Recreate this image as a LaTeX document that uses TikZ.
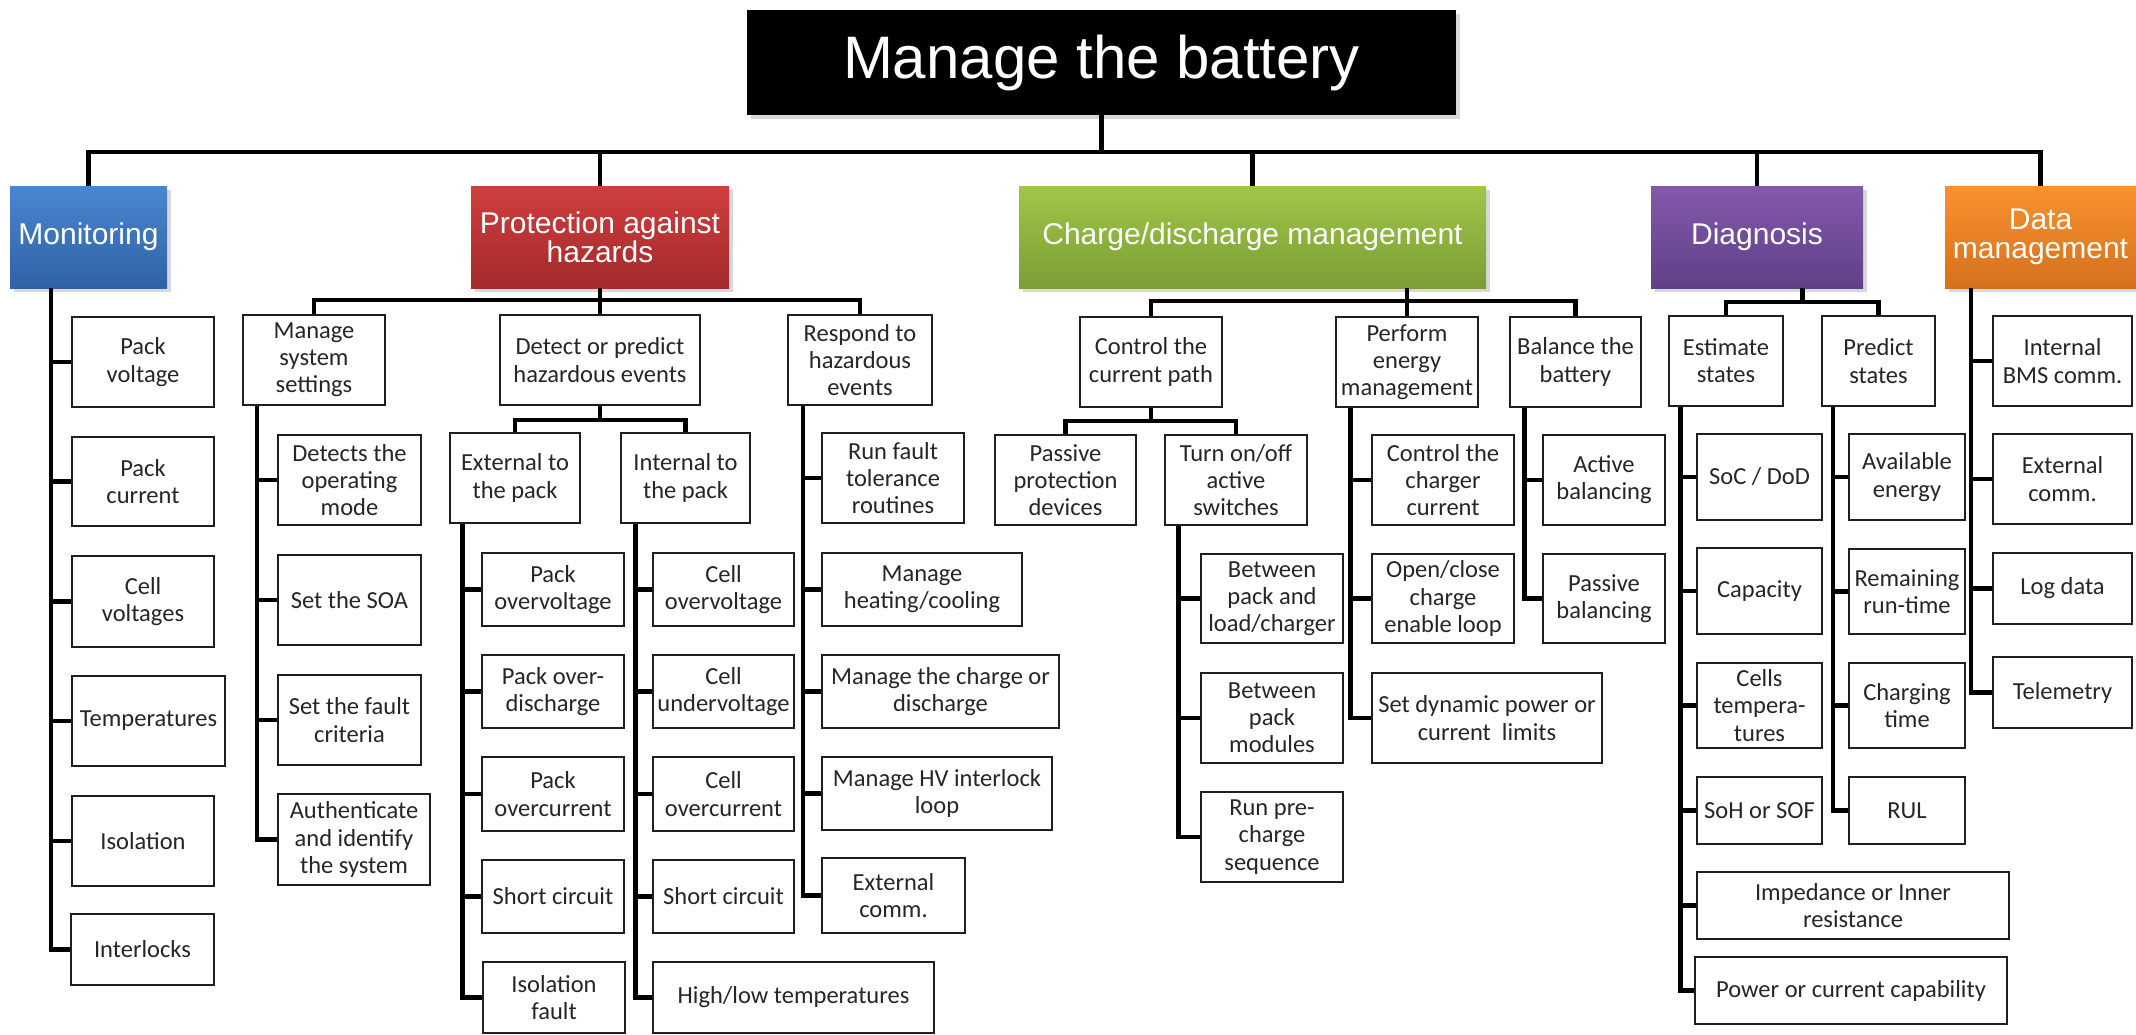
\documentclass[tikz,border=0pt]{standalone}
\usepackage{fontspec}
\setmainfont{Carlito}
\newfontfamily\headfont{Liberation Sans}
\usetikzlibrary{shadows,calc}

\definecolor{monA}{HTML}{4A86D0}\definecolor{monB}{HTML}{2F62A4}
\definecolor{proA}{HTML}{D03E3E}\definecolor{proB}{HTML}{A22A2B}
\definecolor{chgA}{HTML}{A0C648}\definecolor{chgB}{HTML}{7A9E34}
\definecolor{diaA}{HTML}{8459AC}\definecolor{diaB}{HTML}{5F4086}
\definecolor{datA}{HTML}{F8922E}\definecolor{datB}{HTML}{D5711E}

\tikzset{
  conn/.style={draw=black, line width=2.3pt, line join=miter},
  box/.style={draw=black!88, line width=1.3pt, fill=white, inner sep=1pt,
    align=center, text=black!85, font=\fontsize{12.25}{13.6}\selectfont},
  head/.style={inner sep=1pt, align=center, text=white,
    font=\headfont\fontsize{15}{14.5}\selectfont,
    drop shadow={shadow xshift=2pt, shadow yshift=-2pt, opacity=0.3}},
}

% box from its corners: [style]{name}{x1}{y1}{x2}{y2}{text}
\newcommand\bxn[7][box]{%
  \node[#1, minimum width={(#5-#3)*0.5pt}, minimum height={(#6-#4)*0.5pt}]
    (#2) at ({(#3+#5)/2},{(#4+#6)/2}) {#7};}
% vertical spine under a parent, with a stub to each child
\newcommand\spinex[4]{%
  \coordinate (sp) at (#2,0);
  \draw[conn] (#1.south -| sp) |- (#4.west);
  \foreach \c in {#3} \draw[conn] (sp |- \c.west) -- (\c.west);}

\begin{document}
\begin{tikzpicture}[x=0.5pt, y=-0.5pt]
\fill[white] (0,0) rectangle (2136,1034);
\useasboundingbox (0,0) rectangle (2136,1034);

% root and first level
\bxn[head, fill=black, font=\headfont\fontsize{30}{36}\selectfont]{title}{747}{10}{1456}{115}{Manage the battery}
\bxn[head, top color=monA, bottom color=monB]{mon}{10}{186}{167}{288}{Monitoring}
\bxn[head, top color=proA, bottom color=proB]{pah}{471}{186}{729}{288}{Protection against\\hazards}
\bxn[head, top color=chgA, bottom color=chgB]{cdm}{1019}{186}{1486}{288}{Charge/discharge management}
\bxn[head, top color=diaA, bottom color=diaB]{dia}{1651}{186}{1863}{288}{Diagnosis}
\bxn[head, top color=datA, bottom color=datB]{dmg}{1945}{186}{2136}{288}{Data\\management}

% Monitoring
\bxn{pv}{72}{317}{214}{407}{Pack\\voltage}
\bxn{pc}{72}{437}{214}{526}{Pack\\current}
\bxn{cv}{72}{556}{214}{647}{Cell\\voltages}
\bxn{tp}{72}{676}{225}{766}{Temperatures}
\bxn{iso}{72}{796}{214}{886}{Isolation}
\bxn{il}{71}{914}{214}{985}{Interlocks}

% Protection against hazards
\bxn{mss}{243}{315}{385}{405}{Manage\\system\\settings}
\bxn{dph}{500}{315}{700}{405}{Detect or predict\\hazardous events}
\bxn{rhe}{788}{315}{932}{405}{Respond to\\hazardous\\events}

\bxn{dom}{278}{435}{421}{525}{Detects the\\operating\\mode}
\bxn{soa}{278}{555}{421}{645}{Set the SOA}
\bxn{sfc}{278}{675}{421}{765}{Set the fault\\criteria}
\bxn{aut}{278}{794}{430}{885}{Authenticate\\and identify\\the system}

\bxn{ext}{450}{433}{580}{523}{External to\\the pack}
\bxn{intp}{621}{433}{750}{523}{Internal to\\the pack}

\bxn{pov}{482}{553}{624}{626}{Pack\\overvoltage}
\bxn{pod}{482}{655}{624}{728}{Pack over-\\discharge}
\bxn{poc}{482}{757}{624}{831}{Pack\\overcurrent}
\bxn{psc}{482}{860}{624}{933}{Short circuit}
\bxn{isf}{483}{962}{625}{1033}{Isolation\\fault}

\bxn{cov}{653}{553}{794}{626}{Cell\\overvoltage}
\bxn{cuv}{653}{655}{794}{728}{Cell\\undervoltage}
\bxn{coc}{653}{757}{794}{831}{Cell\\overcurrent}
\bxn{csc}{653}{860}{794}{933}{Short circuit}
\bxn{hlt}{653}{962}{934}{1033}{High/low temperatures}

\bxn{rft}{822}{433}{964}{523}{Run fault\\tolerance\\routines}
\bxn{mhc}{822}{553}{1022}{626}{Manage\\heating/cooling}
\bxn{mcd}{822}{655}{1059}{728}{Manage the charge or\\discharge}
\bxn{mhv}{822}{757}{1052}{830}{Manage HV interlock\\loop}
\bxn{exc}{822}{858}{965}{933}{External\\comm.}

% Charge/discharge management
\bxn{ctp}{1080}{317}{1222}{407}{Control the\\current path}
\bxn{pem}{1336}{317}{1478}{407}{Perform\\energy\\management}
\bxn{bal}{1510}{317}{1641}{407}{Balance the\\battery}

\bxn{ppd}{995}{435}{1136}{525}{Passive\\protection\\devices}
\bxn{tas}{1165}{435}{1307}{525}{Turn on/off\\active\\switches}

\bxn{bpl}{1201}{554}{1343}{643}{Between\\pack and\\load/charger}
\bxn{bpm}{1201}{673}{1343}{763}{Between\\pack\\modules}
\bxn{rpc}{1201}{792}{1343}{882}{Run pre-\\charge\\sequence}

\bxn{ccc}{1372}{435}{1514}{525}{Control the\\charger\\current}
\bxn{oce}{1372}{554}{1514}{643}{Open/close\\charge\\enable loop}
\bxn{sdp}{1372}{673}{1602}{763}{Set dynamic power or\\current\ \ limits}

\bxn{abl}{1543}{435}{1665}{525}{Active\\balancing}
\bxn{pbl}{1543}{554}{1665}{643}{Passive\\balancing}

% Diagnosis
\bxn{est}{1669}{316}{1783}{406}{Estimate\\states}
\bxn{prd}{1822}{316}{1935}{406}{Predict\\states}

\bxn{soc}{1697}{434}{1822}{520}{SoC / DoD}
\bxn{capa}{1697}{548}{1822}{634}{Capacity}
\bxn{ctt}{1697}{663}{1822}{748}{Cells\\tempera-\\tures}
\bxn{soh}{1697}{777}{1822}{844}{SoH or SOF}
\bxn{imp}{1697}{872}{2009}{939}{Impedance or Inner\\resistance}
\bxn{pcc}{1695}{957}{2007}{1024}{Power or current capability}

\bxn{ave}{1849}{434}{1965}{520}{Available\\energy}
\bxn{rrt}{1849}{549}{1965}{634}{Remaining\\run-time}
\bxn{cht}{1849}{663}{1965}{748}{Charging\\time}
\bxn{rul}{1849}{777}{1965}{844}{RUL}

% Data management
\bxn{ibc}{1993}{316}{2132}{406}{Internal\\BMS comm.}
\bxn{exm}{1993}{434}{2132}{524}{External\\comm.}
\bxn{lgd}{1993}{553}{2132}{624}{Log data}
\bxn{tel}{1993}{657}{2132}{728}{Telemetry}

% buses between levels
\coordinate (bus0) at (0,152);
\draw[conn] (title.south) -- (title.south |- bus0);
\draw[conn] (mon.north) -- (mon.north |- bus0) -- (dmg.north |- bus0) -- (dmg.north);
\foreach \n in {pah,cdm,dia} \draw[conn] (\n.north |- bus0) -- (\n.north);

\coordinate (bus1) at (0,300);
\draw[conn] (pah.south) -- (pah.south |- bus1);
\draw[conn] (mss.north) -- (mss.north |- bus1) -- (rhe.north |- bus1) -- (rhe.north);
\draw[conn] (dph.north |- bus1) -- (dph.north);

\coordinate (bus2) at (0,420);
\draw[conn] (dph.south) -- (dph.south |- bus2);
\draw[conn] (ext.north) -- (ext.north |- bus2) -- (intp.north |- bus2) -- (intp.north);

\coordinate (bus3) at (0,301);
\draw[conn] (pem.north |- cdm.south) -- (pem.north);
\draw[conn] (ctp.north) -- (ctp.north |- bus3) -- (bal.north |- bus3) -- (bal.north);

\coordinate (bus4) at (0,421);
\draw[conn] (ctp.south) -- (ctp.south |- bus4);
\draw[conn] (ppd.north) -- (ppd.north |- bus4) -- (tas.north |- bus4) -- (tas.north);

\coordinate (bus5) at (0,302);
\coordinate (dmid) at ($(est.north)!0.5!(prd.north)$);
\draw[conn] (dmid |- dia.south) -- (dmid |- bus5);
\draw[conn] (est.north) -- (est.north |- bus5) -- (prd.north |- bus5) -- (prd.north);

% spines down the lists
\spinex{mon}{51}{pv,pc,cv,tp,iso}{il}
\spinex{mss}{257}{dom,soa,sfc}{aut}
\spinex{ext}{462.5}{pov,pod,poc,psc}{isf}
\spinex{intp}{635.5}{cov,cuv,coc,csc}{hlt}
\spinex{rhe}{803}{rft,mhc,mcd,mhv}{exc}
\spinex{tas}{1178.7}{bpl,bpm}{rpc}
\spinex{pem}{1350.6}{ccc,oce}{sdp}
\spinex{bal}{1524.7}{abl}{pbl}
\spinex{est}{1680.7}{soc,capa,ctt,soh,imp}{pcc}
\spinex{prd}{1833}{ave,rrt,cht}{rul}
\spinex{dmg}{1971}{ibc,exm,lgd}{tel}
\end{tikzpicture}
\end{document}
